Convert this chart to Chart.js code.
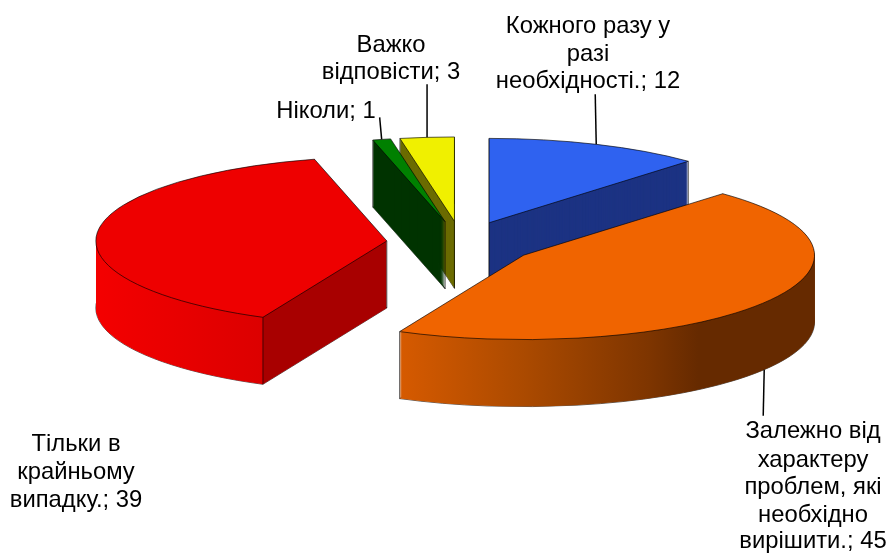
<!DOCTYPE html>
<html>
<head>
<meta charset="utf-8">
<style>
  html, body { margin: 0; padding: 0; background: #fff; }
  canvas { display: block; }
</style>
<script src="https://cdn.jsdelivr.net/npm/chart.js@4"></script>
</head>
<body>
<canvas id="myChart" width="891" height="553"></canvas>
<script>
// data
const categories = [
    ['Кожного разу у', 'разі', 'необхідності.'],
    ['Залежно від', 'характеру', 'проблем, які', 'необхідно', 'вирішити.'],
    ['Тільки в', 'крайньому', 'випадку.'],
    ['Ніколи'],
    ['Важко', 'відповісти'],
];
const values = [12, 45, 39, 1, 3];
const topColors = ['#2f62f0', '#f06400', '#ee0000', '#008000', '#f0f000'];
const sideColors = ['#1c3383', '#662a00', '#a80000', '#003300', '#6b6b00'];

// fake 3d settings
const pieX = 461.5, pieY = 243, tilt = 0.29, depth = 67, explode = 75;
const paintOrder = [0, 4, 3, 2, 1];

// text centre x, first baseline, leader end relative to the rim point
const labelLayout = [
    { x: 588, y: 33, leader: [-1, -50] },
    { x: 813, y: 438, leader: [-1, 46], front: true },
    { x: 76, y: 451 },
    { x: 326, y: 118, leader: [-2, -22] },
    { x: 391, y: 52, leader: [0, -53] },
];
const lineGaps = [
    [28, 27],
    [29, 27, 28, 26],
    [28, 28],
    [],
    [27],
];

function midAngle(arc) {
    return (arc.startAngle + arc.endAngle) / 2;
}

// put the context on the squashed pie, moved down by d, with the slice pulled out
function place(ctx, arc, d) {
    const m = midAngle(arc);
    ctx.translate(pieX, pieY + d);
    ctx.scale(1, tilt);
    ctx.translate(-arc.x + Math.cos(m) * explode, -arc.y + Math.sin(m) * explode);
}

function project(arc, angle, r, d) {
    const m = midAngle(arc);
    return {
        x: pieX + Math.cos(m) * explode + Math.cos(angle) * r,
        y: pieY + d + (Math.sin(m) * explode + Math.sin(angle) * r) * tilt,
    };
}

function outline(ctx, arc, d) {
    ctx.save();
    place(ctx, arc, d);
    ctx.beginPath();
    ctx.moveTo(arc.x, arc.y);
    ctx.arc(arc.x, arc.y, arc.outerRadius, arc.startAngle, arc.endAngle);
    ctx.closePath();
    ctx.restore();
    ctx.lineWidth = 0.8;
    ctx.strokeStyle = 'rgba(0,0,0,0.8)';
    ctx.stroke();
}

// gradients are read in the moved space of place(), so take the shift off
function sideFill(ctx, arc, i) {
    const shift = project(arc, 0, 0, 0).x - arc.x;
    if (i === 1) {
        const corner = project(arc, arc.endAngle, arc.outerRadius, 0).x;
        const right = project(arc, 0, arc.outerRadius, 0).x;
        const g = ctx.createLinearGradient(corner - shift, 0, right - shift, 0);
        g.addColorStop(0, '#d65a00');
        g.addColorStop(0.3, '#ab4a00');
        g.addColorStop(0.6, '#7e3500');
        g.addColorStop(0.72, sideColors[1]);
        g.addColorStop(1, sideColors[1]);
        return g;
    }
    if (i === 2) {
        const corner = project(arc, arc.startAngle, arc.outerRadius, 0).x;
        const left = project(arc, Math.PI, arc.outerRadius, 0).x;
        const right = project(arc, arc.startAngle, 0, 0).x;
        const g = ctx.createLinearGradient(left - shift, 0, right - shift, 0);
        const split = (corner - left) / (right - left);
        g.addColorStop(0, '#f40000');
        g.addColorStop(split, '#dc0000');
        g.addColorStop(split, sideColors[2]);
        g.addColorStop(1, sideColors[2]);
        return g;
    }
    return sideColors[i];
}

function drawSlice(ctx, arc, i) {
    const fake = Object.create(arc);
    fake.options = Object.assign({}, arc.options, { borderWidth: 0, backgroundColor: sideFill(ctx, arc, i) });

    outline(ctx, arc, depth);
    for (let d = depth; d > 0; d--) {
        ctx.save();
        place(ctx, arc, d);
        fake.draw(ctx);
        ctx.restore();
    }

    // vertical edges, the inner corner of the thin green slice stays hidden
    ctx.lineWidth = 0.8;
    ctx.strokeStyle = 'rgba(0,0,0,0.8)';
    const edges = [[arc.startAngle, arc.outerRadius], [arc.startAngle, 0]];
    if (i !== 3) edges.push([arc.endAngle, arc.outerRadius]);
    edges.forEach(function (e) {
        const p = project(arc, e[0], e[1], 0);
        ctx.beginPath();
        ctx.moveTo(p.x, p.y);
        ctx.lineTo(p.x, p.y + depth);
        ctx.stroke();
    });

    const top = Object.create(arc);
    top.options = Object.assign({}, arc.options, { borderWidth: 0 });
    ctx.save();
    place(ctx, arc, 0);
    top.draw(ctx);
    ctx.restore();
    outline(ctx, arc, 0);
}

function drawLabels(ctx, arcs) {
    ctx.font = '23.8px "Liberation Sans", Arial, sans-serif';
    ctx.fillStyle = '#000';
    ctx.textAlign = 'center';
    categories.forEach(function (lines, i) {
        const box = labelLayout[i];
        let y = box.y;
        lines.forEach(function (line, n) {
            const text = n === lines.length - 1 ? line + '; ' + values[i] : line;
            ctx.fillText(text, box.x, y);
            y += lineGaps[i][n] || 0;
        });
        if (box.leader) {
            const p = project(arcs[i], midAngle(arcs[i]), arcs[i].outerRadius, box.front ? depth : 0);
            ctx.beginPath();
            ctx.moveTo(p.x, p.y);
            ctx.lineTo(p.x + box.leader[0], p.y + box.leader[1]);
            ctx.lineWidth = 1.5;
            ctx.strokeStyle = '#000';
            ctx.stroke();
        }
    });
}

const pie3d = {
    id: 'pie3d',
    beforeDatasetDraw(chart, args) {
        const arcs = args.meta.data;
        paintOrder.forEach(function (i) {
            drawSlice(chart.ctx, arcs[i], i);
        });
        return false;
    },
    afterDraw(chart) {
        drawLabels(chart.ctx, chart.getDatasetMeta(0).data);
    },
};

const myChart = new Chart(document.getElementById('myChart'), {
    type: 'pie',
    data: {
        labels: categories.map(function (c) { return c.join(' '); }),
        datasets: [{
            data: values,
            backgroundColor: topColors,
            borderWidth: 0,
            clip: false,
        }],
    },
    options: {
        responsive: false,
        animation: false,
        radius: 291,
        layout: { padding: 0 },
        plugins: {
            legend: { display: false },
            tooltip: { enabled: false },
        },
    },
    plugins: [pie3d],
});
</script>
</body>
</html>
